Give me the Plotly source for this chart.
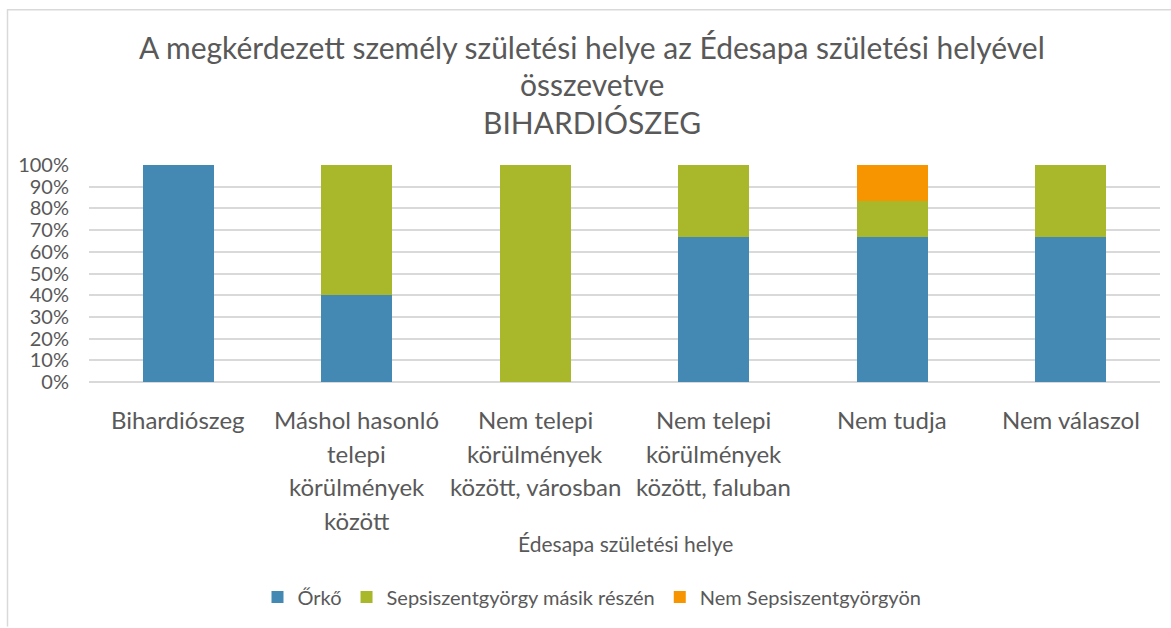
import plotly.graph_objects as go

# Categories (father's birthplace), multi-line labels split on <br>
categories = [
    "Bihardiószeg",
    "Máshol hasonló<br>telepi<br>körülmények<br>között",
    "Nem telepi<br>körülmények<br>között, városban",
    "Nem telepi<br>körülmények<br>között, faluban",
    "Nem tudja",
    "Nem válaszol",
]

# Share of respondents by own birthplace (percent)
orko = [100, 40, 0, 66.7, 66.7, 66.7]
sepsi_mas = [0, 60, 100, 33.3, 16.7, 33.3]
nem_sepsi = [0, 0, 0, 0, 16.6, 0]

series_names = ["Őrkő", "Sepsiszentgyörgy másik részén", "Nem Sepsiszentgyörgyön"]
series_colors = ["#4389B3", "#A8B82A", "#F79500"]
y_ticks = [0, 10, 20, 30, 40, 50, 60, 70, 80, 90, 100]
y_ticktext = [f"{v}%" for v in y_ticks]

W, H = 1171, 628
L, R, T, B = 89, 1160, 165, 385
FONT = "Lato"
GREY = "#595959"

fig = go.Figure()
for name, vals, col in zip(series_names, [orko, sepsi_mas, nem_sepsi], series_colors):
    fig.add_trace(go.Bar(
        x=list(range(len(categories))), y=vals, name=name,
        marker=dict(color=col, line=dict(width=0)),
        width=0.4,
    ))


def px_x(p):
    return (p - L) / (R - L)


def px_y(p):
    return (B - p) / (B - T)


annotations = []
# Category labels, one annotation per text line
for i, cat in enumerate(categories):
    for j, line in enumerate(cat.split("<br>")):
        annotations.append(dict(
            x=i, xref="x", y=px_y(423 + 34 * j), yref="paper",
            text=line, showarrow=False, xanchor="center", yanchor="middle",
            font=dict(family=FONT, size=24, color=GREY),
        ))

# Axis title
annotations.append(dict(
    x=px_x(625), xref="paper", y=px_y(549), yref="paper",
    text="Édesapa születési helye", showarrow=False,
    xanchor="center", yanchor="middle",
    font=dict(family=FONT, size=21, color=GREY),
))

# Chart title lines
title_lines = [
    "A megkérdezett személy születési helye az Édesapa születési helyével",
    "összevetve",
    "BIHARDIÓSZEG",
]
for k, t in enumerate(title_lines):
    annotations.append(dict(
        x=px_x(592), xref="paper", y=px_y(45 + 38 * k), yref="paper",
        text=t, showarrow=False, xanchor="center", yanchor="middle",
        font=dict(family=FONT, size=30, color=GREY),
    ))

shapes = [
    dict(type="line", xref="paper", yref="paper",
         x0=px_x(7), x1=px_x(W + 5), y0=px_y(7.5), y1=px_y(7.5),
         line=dict(color="#D9D9D9", width=1.5)),
    dict(type="line", xref="paper", yref="paper",
         x0=px_x(7.5), x1=px_x(7.5), y0=px_y(7), y1=px_y(H + 5),
         line=dict(color="#D9D9D9", width=1.5)),
]

fig.update_layout(
    width=W, height=H,
    margin=dict(l=L, r=W - R, t=T, b=H - B, pad=0),
    barmode="stack",
    bargap=0.6,
    paper_bgcolor="white",
    plot_bgcolor="white",
    font=dict(family=FONT, color=GREY),
    showlegend=True,
    legend=dict(
        orientation="h", x=px_x(592), xanchor="center",
        y=px_y(603), yanchor="middle",
        font=dict(family=FONT, size=20, color=GREY),
        itemwidth=30, traceorder="normal",
    ),
    annotations=annotations,
    shapes=shapes,
    xaxis=dict(
        range=[-0.5, len(categories) - 0.5],
        showticklabels=False, showgrid=False, zeroline=False,
        showline=False, ticks="",
    ),
    yaxis=dict(
        range=[0, 100], tickmode="array", tickvals=y_ticks, ticktext=y_ticktext,
        showgrid=True, gridcolor="#D9D9D9", gridwidth=1.5,
        zeroline=True, zerolinecolor="#D9D9D9", zerolinewidth=1.5,
        showline=False, ticks="",
        tickfont=dict(family=FONT, size=20, color=GREY),
        ticklabelstandoff=19,
    ),
)

fig.write_html("out.html")
